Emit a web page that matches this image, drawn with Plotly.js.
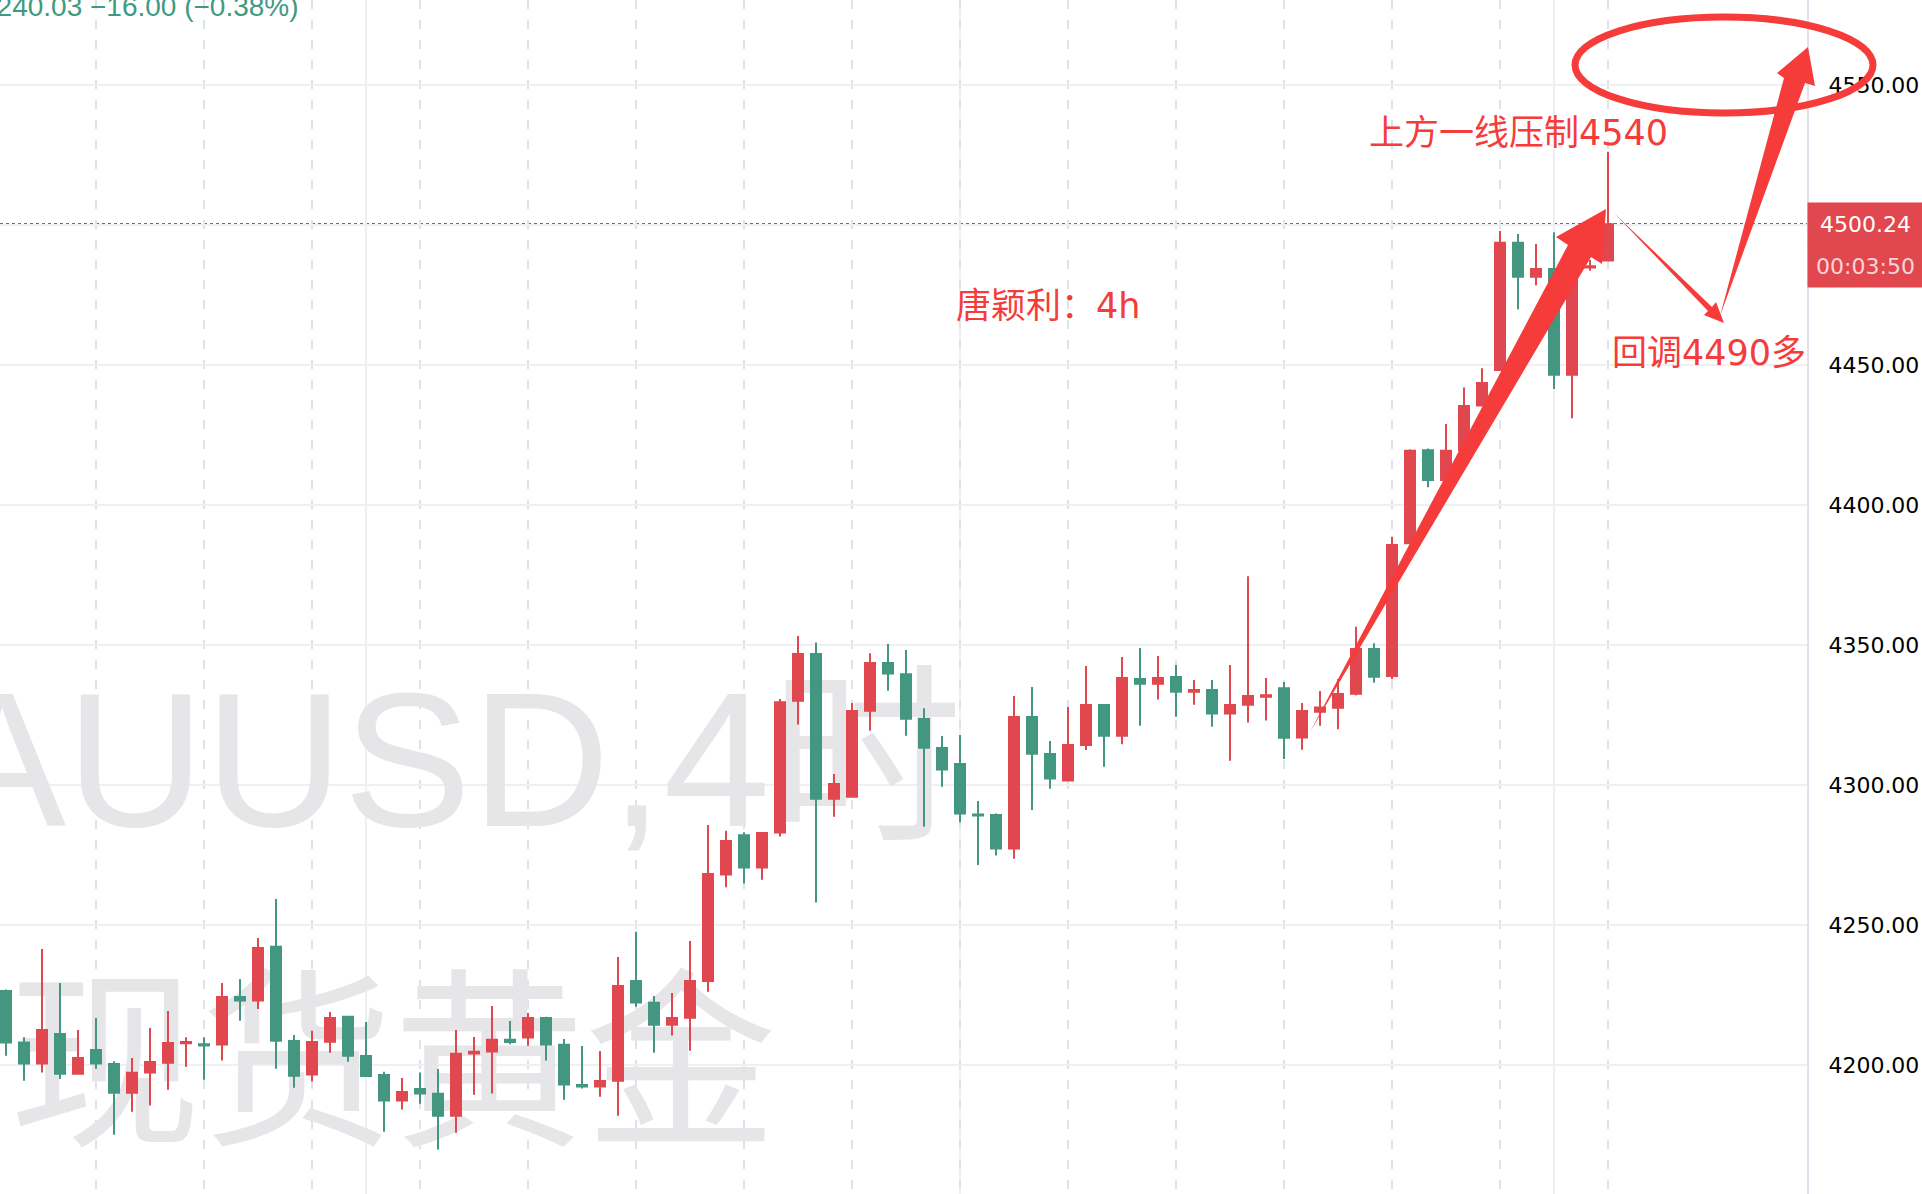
<!DOCTYPE html>
<html>
<head>
<meta charset="utf-8">
<script src="https://cdn.plot.ly/plotly-3.0.1.min.js"></script>
<style>
html,body{margin:0;padding:0;background:#ffffff;overflow:hidden;}
#chart{width:1922px;height:1194px;}
</style>
</head>
<body>
<div id="chart"></div>
<script>
// ---------------- data (4h candles, XAUUSD) ----------------
const openPrices = [4226.4,4208.0,4200.5,4211.1,4196.9,4205.4,4200.4,4190.1,4197.3,4200.8,
 4207.8,4207.4,4207.3,4224.3,4223.0,4242.2,4208.6,4196.6,4208.3,4217.2,
 4203.2,4196.4,4187.3,4191.4,4189.7,4181.9,4204.1,4204.8,4209.0,4209.8,
 4216.8,4207.2,4192.9,4192.3,4194.4,4230.0,4222.2,4214.4,4216.9,4230.0,
 4268.0,4282.1,4270.5,4283.0,4330.1,4346.8,4295.1,4295.8,4326.5,4343.6,
 4339.6,4323.6,4313.2,4307.5,4289.5,4289.3,4277.3,4324.3,4311.1,4301.6,
 4314.3,4328.6,4317.6,4337.9,4336.2,4338.6,4333.3,4333.9,4325.5,4328.7,
 4331.5,4334.6,4317.0,4326.2,4327.6,4332.6,4348.6,4338.9,4386.3,4419.6,
 4408.9,4419.6,4435.5,4448.2,4493.7,4481.5,4484.3,4446.5,4484.8,4487.3];
const highPrices = [4227.0,4209.9,4241.4,4229.3,4212.5,4216.8,4201.3,4202.5,4213.2,4219.3,
 4209.9,4209.9,4229.3,4230.7,4245.4,4259.3,4210.7,4212.2,4218.9,4217.6,
 4215.4,4197.6,4195.4,4197.3,4198.6,4212.5,4210.0,4221.1,4215.7,4218.6,
 4217.2,4209.3,4206.8,4205.0,4238.6,4247.6,4224.6,4225.7,4244.3,4285.7,
 4283.7,4283.1,4283.0,4330.7,4353.2,4350.9,4303.9,4329.3,4347.1,4350.4,
 4348.2,4327.4,4317.5,4317.9,4294.3,4289.8,4331.8,4335.0,4315.7,4327.9,
 4342.5,4328.8,4345.7,4348.9,4346.1,4342.9,4337.5,4337.5,4342.9,4374.6,
 4338.2,4336.8,4329.3,4333.6,4337.9,4356.5,4350.6,4388.7,4419.9,4420.2,
 4428.9,4442.0,4448.8,4497.9,4496.8,4493.2,4497.4,4487.0,4487.5,4526.2];
const lowPrices = [4203.3,4194.4,4197.3,4195.0,4196.9,4198.7,4175.1,4183.3,4185.5,4191.2,
 4199.4,4194.7,4201.6,4215.8,4220.0,4198.7,4191.9,4194.1,4204.4,4201.2,
 4195.8,4176.2,4184.1,4186.2,4169.8,4175.8,4189.4,4189.8,4207.4,4206.9,
 4201.6,4187.6,4191.6,4188.7,4181.9,4220.8,4204.4,4210.5,4205.1,4226.2,
 4263.5,4264.8,4266.2,4281.6,4321.6,4258.0,4288.7,4295.5,4319.4,4333.7,
 4317.6,4285.1,4299.4,4286.7,4271.4,4274.8,4273.7,4291.1,4298.7,4301.4,
 4312.5,4306.5,4314.6,4321.2,4330.5,4324.4,4328.7,4320.8,4308.7,4322.3,
 4323.0,4309.3,4312.6,4321.2,4319.9,4332.1,4336.5,4337.8,4386.0,4406.3,
 4408.6,4419.3,4435.2,4448.0,4469.9,4478.4,4441.4,4431.0,4483.7,4487.1];
const closePrices = [4208.0,4200.5,4212.5,4196.9,4202.5,4200.5,4190.1,4197.2,4201.1,4207.9,
 4208.2,4207.0,4224.3,4223.0,4241.8,4208.7,4196.2,4208.2,4216.8,4203.3,
 4196.1,4187.3,4190.4,4189.8,4181.9,4204.0,4204.7,4209.0,4208.2,4216.8,
 4207.3,4193.0,4192.3,4194.3,4228.2,4222.3,4214.4,4216.8,4230.0,4268.2,
 4280.0,4270.5,4282.9,4329.6,4346.8,4295.1,4300.4,4326.4,4343.6,4339.8,
 4323.7,4313.3,4305.5,4289.8,4289.1,4277.3,4324.3,4311.2,4302.3,4314.3,
 4328.6,4317.6,4338.2,4336.2,4338.2,4333.3,4333.9,4325.5,4328.6,4331.8,
 4332.1,4316.9,4326.4,4327.7,4332.5,4348.6,4338.7,4385.7,4419.4,4408.9,
 4419.4,4435.4,4443.6,4493.7,4481.5,4484.3,4446.5,4484.5,4485.3,4500.24];
const priceTicks = [4200, 4250, 4300, 4350, 4400, 4450, 4500, 4550];
const priceTickText = ['4200.00', '4250.00', '4300.00', '4350.00', '4400.00', '4450.00', '', '4550.00']; // 4500 hidden under the price tag
const timeGridCandles = [20, 53, 86];          // candles on the regular time grid
const candlesPerSession = 6;                    // 4h candles per trading day
const firstSessionCandle = 5;
const lastPrice = 4500.24;
const countdownText = '00:03:50';
const headerText = '4240.03 \u221216.00 (\u22120.38%)';
const watermarkLine1 = 'XAUUSD,4\u65f6';
const watermarkLine2 = '\u73b0\u8d27\u9ec4\u91d1';
const noteResistance = '\u4e0a\u65b9\u4e00\u7ebf\u538b\u52364540';
const noteAuthor = '\u5510\u9896\u5229\uff1a4h';
const notePullback = '\u56de\u8c034490\u591a';

// ---------------- geometry helpers ----------------
const FULL_W = 1922, FULL_H = 1194, PLOT_W = 1807;
const xRange = [-6 / 18, (PLOT_W - 6) / 18];
const yRange = [4153.93, 4580.36];
const paperX = p => p / PLOT_W;
const paperY = p => 1 - p / FULL_H;
const idxAtPx = p => xRange[0] + p / PLOT_W * (xRange[1] - xRange[0]);
const priceAtPy = p => yRange[1] - p / FULL_H * (yRange[1] - yRange[0]);
const polyPath = pts => 'M' + pts.map(([x, y]) => paperX(x) + ',' + paperY(y)).join('L') + 'Z';

const RED = '#e1474e', GREEN = '#43967f', INK = '#f63b3b';

const candleIndex = openPrices.map((_, i) => i);
const sessionBreaks = candleIndex.filter(i => i >= firstSessionCandle && (i - firstSessionCandle) % candlesPerSession === 0);

// hand-drawn overlay (pixel outline points)
const bigArrowUp = [[1310,732],[1568,245],[1556,237],[1606,209],[1602,264],[1591,257]];
const thinArrowDown = [[1614,213],[1712,307],[1716,302],[1724,323],[1704,315],[1708,311]];
const arrowToTarget = [[1720,316],[1784,78],[1777,73],[1808,47],[1815,86],[1805,83]];

const watermark = {
  type: 'scatter', mode: 'text', xaxis: 'x', yaxis: 'y',
  x: [idxAtPx(386), idxAtPx(393)],
  y: [priceAtPy(778), priceAtPy(1083)],
  text: [watermarkLine1, watermarkLine2],
  textposition: 'middle center',
  textfont: {family: 'Liberation Sans, Noto Sans CJK SC', size: 192, color: '#e6e6e9'},
  hoverinfo: 'skip'
};

const candles = {
  type: 'candlestick', xaxis: 'x2', yaxis: 'y2',
  x: candleIndex, open: openPrices, high: highPrices, low: lowPrices, close: closePrices,
  increasing: {line: {color: RED, width: 2}, fillcolor: RED},
  decreasing: {line: {color: GREEN, width: 2}, fillcolor: GREEN},
  whiskerwidth: 0,
  hoverinfo: 'skip'
};

const textFont = {family: 'DejaVu Sans, Noto Sans CJK SC', size: 35, color: INK};

const layout = {
  width: FULL_W, height: FULL_H,
  margin: {l: 0, r: FULL_W - PLOT_W, t: 0, b: 0, pad: 0},
  paper_bgcolor: '#ffffff', plot_bgcolor: '#ffffff',
  showlegend: false,
  boxgap: 0.444, boxgroupgap: 0,
  xaxis: {range: xRange, tickmode: 'array', tickvals: timeGridCandles, showgrid: true,
          gridcolor: '#eff0f3', gridwidth: 2, showticklabels: false, ticks: '',
          zeroline: false, showline: false, fixedrange: true, rangeslider: {visible: false}},
  yaxis: {range: yRange, showgrid: false, showticklabels: false, ticks: '',
          zeroline: false, showline: false, fixedrange: true},
  xaxis2: {overlaying: 'x', range: xRange, tickmode: 'array', tickvals: sessionBreaks,
           showgrid: true, gridcolor: '#dfe2ea', gridwidth: 2, griddash: '9px,11px',
           showticklabels: false, ticks: '', zeroline: false, showline: false,
           fixedrange: true, rangeslider: {visible: false}},
  yaxis2: {overlaying: 'y', side: 'right', anchor: 'x2', range: yRange,
           tickmode: 'array', tickvals: priceTicks, ticktext: priceTickText,
           showgrid: true, gridcolor: '#eff0f3', gridwidth: 2,
           showline: true, linecolor: '#e0e3eb', linewidth: 2, ticks: '',
           ticklabelstandoff: 15, zeroline: false, fixedrange: true,
           tickfont: {family: 'DejaVu Sans', size: 22, color: '#000000'}},
  shapes: [
    {type: 'line', xref: 'paper', yref: 'y2', x0: 0, x1: 1, y0: lastPrice, y1: lastPrice,
     layer: 'below', line: {color: '#e23b44', width: 2.5, dash: '3px,3px'}},
    {type: 'circle', xref: 'paper', yref: 'paper', layer: 'above',
     x0: paperX(1575), x1: paperX(1873), y0: paperY(113), y1: paperY(17),
     line: {color: INK, width: 7}},
    {type: 'path', xref: 'paper', yref: 'paper', layer: 'above', path: polyPath(bigArrowUp),
     fillcolor: INK, line: {width: 0}},
    {type: 'path', xref: 'paper', yref: 'paper', layer: 'above', path: polyPath(thinArrowDown),
     fillcolor: INK, line: {width: 0}},
    {type: 'path', xref: 'paper', yref: 'paper', layer: 'above', path: polyPath(arrowToTarget),
     fillcolor: INK, line: {width: 0}}
  ],
  annotations: [
    {text: headerText, xref: 'paper', yref: 'paper', x: paperX(301), xanchor: 'right',
     y: paperY(6), yanchor: 'middle', showarrow: false,
     font: {family: 'Liberation Sans', size: 28, color: '#3f9a81'}},
    {text: noteResistance, xref: 'paper', yref: 'paper', x: paperX(1518), xanchor: 'center',
     y: paperY(133), yanchor: 'middle', showarrow: false, font: textFont},
    {text: noteAuthor, xref: 'paper', yref: 'paper', x: paperX(1048), xanchor: 'center',
     y: paperY(306), yanchor: 'middle', showarrow: false, font: textFont},
    {text: notePullback, xref: 'paper', yref: 'paper', x: paperX(1709), xanchor: 'center',
     y: paperY(353), yanchor: 'middle', showarrow: false, font: textFont},
    {text: lastPrice.toFixed(2), xref: 'paper', yref: 'y2', x: 1, xanchor: 'left',
     y: lastPrice, yanchor: 'middle', showarrow: false, width: FULL_W - PLOT_W, height: 42,
     bgcolor: RED, borderpad: 0, align: 'center',
     font: {family: 'DejaVu Sans', size: 22, color: '#ffffff'}},
    {text: countdownText, xref: 'paper', yref: 'paper', x: 1, xanchor: 'left',
     y: paperY(266), yanchor: 'middle', showarrow: false, width: FULL_W - PLOT_W, height: 42,
     bgcolor: RED, borderpad: 0, align: 'center',
     font: {family: 'DejaVu Sans', size: 22, color: '#f7d6d8'}}
  ]
};

Plotly.newPlot('chart', [watermark, candles], layout, {staticPlot: true, displayModeBar: false});
</script>
</body>
</html>
